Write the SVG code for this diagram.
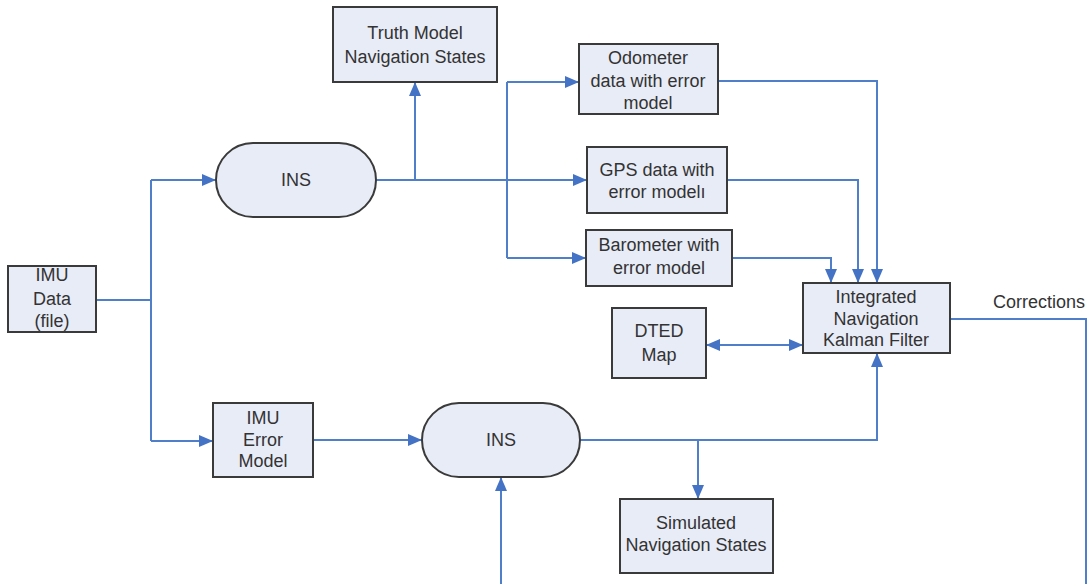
<svg xmlns="http://www.w3.org/2000/svg" width="1088" height="584" viewBox="0 0 1088 584">
<style>
.box{fill:#e8ecf7;stroke:#3a3a3a;stroke-width:2}
.t{font-family:"Liberation Sans",Arial,sans-serif;font-size:18px;fill:#333;text-anchor:middle}
.c{fill:none;stroke:#4f7fc9;stroke-width:2}
</style>
<defs>
<marker id="ah" markerUnits="userSpaceOnUse" markerWidth="14" markerHeight="12" refX="14" refY="6" orient="auto-start-reverse">
<path d="M0,0 L14,6 L0,12 z" fill="#4472c4"/>
</marker>
</defs>
<rect width="1088" height="584" fill="#fff"/>
<g id="connectors">
<path class="c" d="M96,300 H151"/>
<path class="c" d="M151,180 V441"/>
<path class="c" d="M151,180 H216" marker-end="url(#ah)"/>
<path class="c" d="M151,441 H213" marker-end="url(#ah)"/>
<path class="c" d="M376,180 H587" marker-end="url(#ah)"/>
<path class="c" d="M415,180 V82" marker-end="url(#ah)"/>
<path class="c" d="M507,82 V258"/>
<path class="c" d="M507,82 H579" marker-end="url(#ah)"/>
<path class="c" d="M507,258 H586" marker-end="url(#ah)"/>
<path class="c" d="M718,81 H877 V283" marker-end="url(#ah)"/>
<path class="c" d="M727,180 H858 V283" marker-end="url(#ah)"/>
<path class="c" d="M732,258 H831 V283" marker-end="url(#ah)"/>
<path class="c" d="M706,345 H803" marker-start="url(#ah)" marker-end="url(#ah)"/>
<path class="c" d="M950,319 H1086 V584"/>
<path class="c" d="M501,584 V477" marker-end="url(#ah)"/>
<path class="c" d="M313,440 H422" marker-end="url(#ah)"/>
<path class="c" d="M580,440 H877 V353" marker-end="url(#ah)"/>
<path class="c" d="M698,440 V499" marker-end="url(#ah)"/>
</g>
<g id="imu-data">
<rect class="box" x="8" y="266" width="88" height="66"/>
<text class="t" x="52" y="281">IMU</text>
<text class="t" x="52" y="305">Data</text>
<text class="t" x="52" y="327">(file)</text>
</g>
<g id="truth-model">
<rect class="box" x="333" y="7" width="164" height="75"/>
<text class="t" x="415" y="39">Truth Model</text>
<text class="t" x="415" y="63">Navigation States</text>
</g>
<g id="ins-top">
<rect class="box" x="216" y="143" width="160" height="74" rx="37" ry="37"/>
<text class="t" x="296" y="186">INS</text>
</g>
<g id="odometer">
<rect class="box" x="579" y="44" width="139" height="70"/>
<text class="t" x="648" y="64">Odometer</text>
<text class="t" x="648" y="87">data with error</text>
<text class="t" x="648" y="109">model</text>
</g>
<g id="gps">
<rect class="box" x="587" y="147" width="140" height="66"/>
<text class="t" x="657" y="176">GPS data with</text>
<text class="t" x="657" y="198">error modelı</text>
</g>
<g id="barometer">
<rect class="box" x="586" y="230" width="146" height="56"/>
<text class="t" x="659" y="251">Barometer with</text>
<text class="t" x="659" y="274">error model</text>
</g>
<g id="dted">
<rect class="box" x="612" y="308" width="94" height="70"/>
<text class="t" x="659" y="337">DTED</text>
<text class="t" x="659" y="361">Map</text>
</g>
<g id="kalman">
<rect class="box" x="803" y="283" width="147" height="70"/>
<text class="t" x="876" y="303">Integrated</text>
<text class="t" x="876" y="325">Navigation</text>
<text class="t" x="876" y="346">Kalman Filter</text>
</g>
<g id="corrections">
<text class="t" x="993" y="308" style="text-anchor:start">Corrections</text>
</g>
<g id="imu-error">
<rect class="box" x="213" y="403" width="100" height="74"/>
<text class="t" x="263" y="424">IMU</text>
<text class="t" x="263" y="446">Error</text>
<text class="t" x="263" y="467">Model</text>
</g>
<g id="ins-bottom">
<rect class="box" x="422" y="403" width="158" height="74" rx="37" ry="37"/>
<text class="t" x="501" y="446">INS</text>
</g>
<g id="simulated">
<rect class="box" x="620" y="499" width="153" height="74"/>
<text class="t" x="696" y="529">Simulated</text>
<text class="t" x="696" y="551">Navigation States</text>
</g>
</svg>
